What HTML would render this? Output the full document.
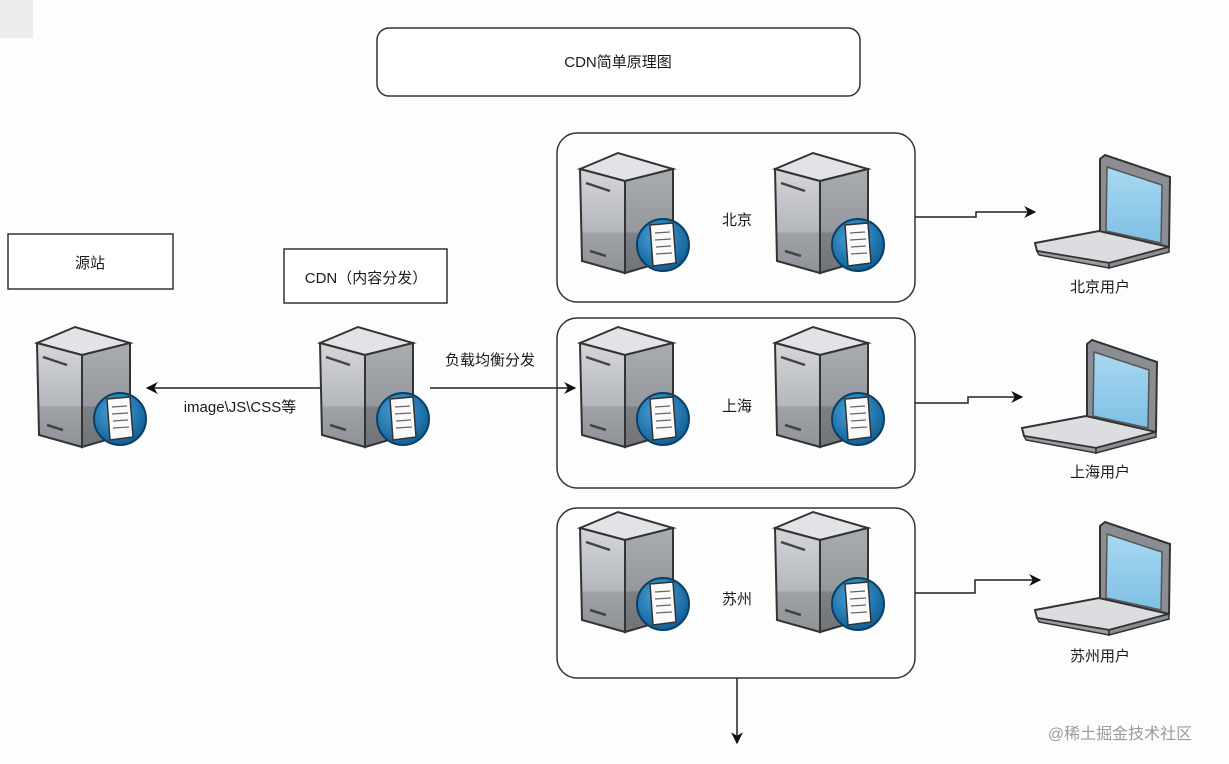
<!DOCTYPE html>
<html><head><meta charset="utf-8"><style>
html,body{margin:0;padding:0;background:#fdfdfd;}
svg{display:block;}
text{font-family:"Liberation Sans","Noto Sans CJK SC",sans-serif;fill:#1a1a1a;}
</style></head><body>
<svg width="1229" height="764" viewBox="0 0 1229 764" xmlns="http://www.w3.org/2000/svg">
<defs>
<linearGradient id="fr" x1="0" y1="0" x2="0" y2="1"><stop offset="0" stop-color="#d4d6da"/><stop offset="0.6" stop-color="#b4b7bc"/><stop offset="0.62" stop-color="#9fa2a7"/><stop offset="1" stop-color="#8f9297"/></linearGradient>
<linearGradient id="sd" x1="0" y1="0" x2="0" y2="1"><stop offset="0" stop-color="#a9acb1"/><stop offset="0.6" stop-color="#95989d"/><stop offset="0.62" stop-color="#7d8085"/><stop offset="1" stop-color="#707378"/></linearGradient>
<radialGradient id="gl" cx="0.4" cy="0.35" r="0.7"><stop offset="0" stop-color="#4aa3d8"/><stop offset="1" stop-color="#0d5c94"/></radialGradient>
<linearGradient id="scr" x1="0" y1="0" x2="0" y2="1"><stop offset="0" stop-color="#a8d8f0"/><stop offset="1" stop-color="#7fc0e6"/></linearGradient>
<symbol id="srv" viewBox="0 0 112 125" width="112" height="125" overflow="visible">
<polygon points="0,16 38,0 93,16 45,28" fill="#e1e3e6" stroke="#333" stroke-width="2"/>
<polygon points="0,16 45,28 45,120 2,108" fill="url(#fr)" stroke="#333" stroke-width="2"/>
<polygon points="45,28 93,16 93,106 45,120" fill="url(#sd)" stroke="#333" stroke-width="2"/>
<line x1="6" y1="30" x2="30" y2="38" stroke="#444" stroke-width="2.5"/>
<line x1="10" y1="98" x2="26" y2="103" stroke="#444" stroke-width="2.5"/>
<circle cx="83" cy="92" r="26" fill="url(#gl)" stroke="#0a3f66" stroke-width="2"/>
<polygon points="70,72 93,70 96,110 73,113" fill="#fafafa" stroke="#333" stroke-width="1.5"/>
<g stroke="#666" stroke-width="1.2"><line x1="75" y1="80" x2="90" y2="79"/><line x1="75" y1="87" x2="91" y2="86"/><line x1="76" y1="94" x2="91" y2="93"/><line x1="76" y1="101" x2="92" y2="100"/></g>
</symbol>
<symbol id="lap" viewBox="0 0 140 115" width="140" height="115" overflow="visible">
<polygon points="65,4 70,0 135,22 134,92 128,96 65,82" fill="#8a8d92" stroke="#333" stroke-width="2"/>
<polygon points="72,12 127,30 126,88 71,76" fill="url(#scr)" stroke="#555" stroke-width="1.5"/>
<polygon points="0,88 64,76 134,92 74,108 2,96" fill="#dcdde0" stroke="#333" stroke-width="2"/>
<polygon points="2,96 74,108 74,113 4,100" fill="#9a9da2" stroke="#333" stroke-width="1.5"/>
<polygon points="74,108 134,92 134,97 74,113" fill="#8a8d92" stroke="#333" stroke-width="1.5"/>
</symbol>
<marker id="ah" viewBox="0 0 10 10" refX="9" refY="5" markerWidth="13" markerHeight="12" orient="auto-start-reverse" markerUnits="userSpaceOnUse"><path d="M0,0 L10,5 L0,10 L3,5z" fill="#111"/></marker>
</defs>
<rect x="0" y="0" width="33" height="38" fill="#ececec"/>
<rect x="377" y="28" width="483" height="68" rx="12" fill="#fff" stroke="#333" stroke-width="1.5"/>
<text x="618" y="67" font-size="15" text-anchor="middle">CDN简单原理图</text>
<rect x="8" y="234" width="165" height="55" fill="#fff" stroke="#333" stroke-width="1.5"/>
<text x="90" y="268" font-size="15" text-anchor="middle">源站</text>
<rect x="284" y="249" width="163" height="54" fill="#fff" stroke="#333" stroke-width="1.5"/>
<text x="366" y="283" font-size="15" text-anchor="middle">CDN（内容分发）</text>
<use href="#srv" x="37" y="327"/>
<use href="#srv" x="320" y="327"/>
<line x1="320" y1="388" x2="147" y2="388" stroke="#222" stroke-width="1.5" marker-end="url(#ah)"/>
<text x="240" y="412" font-size="15" text-anchor="middle">image\JS\CSS等</text>
<line x1="430" y1="388" x2="575" y2="388" stroke="#222" stroke-width="1.5" marker-end="url(#ah)"/>
<text x="490" y="365" font-size="15" text-anchor="middle">负载均衡分发</text>
<rect x="557" y="133" width="358" height="169" rx="20" fill="none" stroke="#333" stroke-width="1.5"/>
<rect x="557" y="318" width="358" height="170" rx="20" fill="none" stroke="#333" stroke-width="1.5"/>
<rect x="557" y="508" width="358" height="170" rx="20" fill="none" stroke="#333" stroke-width="1.5"/>
<use href="#srv" x="580" y="153"/><use href="#srv" x="775" y="153"/>
<use href="#srv" x="580" y="327"/><use href="#srv" x="775" y="327"/>
<use href="#srv" x="580" y="512"/><use href="#srv" x="775" y="512"/>
<text x="737" y="225" font-size="15" text-anchor="middle">北京</text>
<text x="737" y="411" font-size="15" text-anchor="middle">上海</text>
<text x="737" y="604" font-size="15" text-anchor="middle">苏州</text>
<polyline points="915,217 976,217 976,212 1035,212" fill="none" stroke="#222" stroke-width="1.5" marker-end="url(#ah)"/>
<polyline points="915,403 968,403 968,397 1022,397" fill="none" stroke="#222" stroke-width="1.5" marker-end="url(#ah)"/>
<polyline points="915,593 975,593 975,580 1040,580" fill="none" stroke="#222" stroke-width="1.5" marker-end="url(#ah)"/>
<use href="#lap" x="1035" y="155"/>
<use href="#lap" x="1022" y="340"/>
<use href="#lap" x="1035" y="522"/>
<text x="1100" y="292" font-size="15" text-anchor="middle">北京用户</text>
<text x="1100" y="477" font-size="15" text-anchor="middle">上海用户</text>
<text x="1100" y="661" font-size="15" text-anchor="middle">苏州用户</text>
<line x1="737" y1="678" x2="737" y2="743" stroke="#222" stroke-width="1.5" marker-end="url(#ah)"/>
<text x="1120" y="739" font-size="16" text-anchor="middle" style="fill:#9a9a9a">@稀土掘金技术社区</text>
</svg>
</body></html>
